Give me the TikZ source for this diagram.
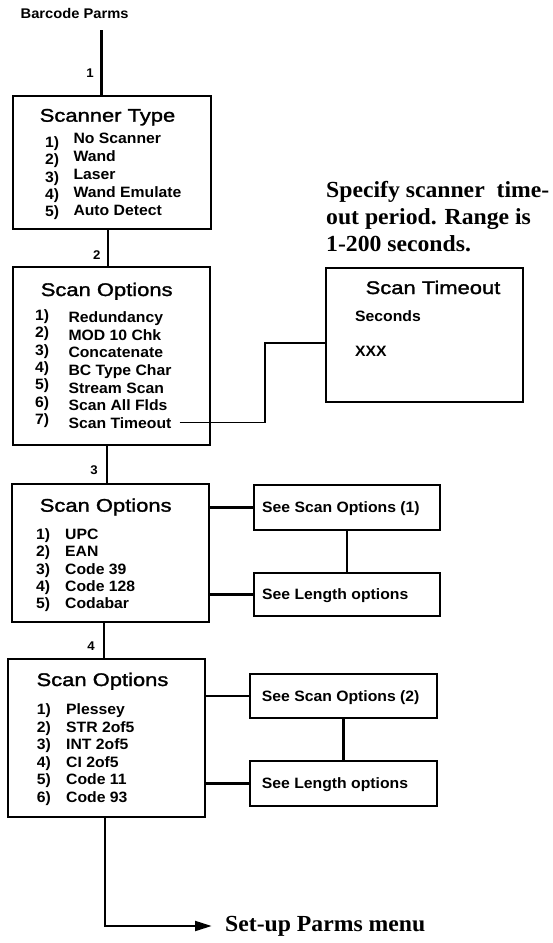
\documentclass[tikz,border=0pt]{standalone}
\usepackage{fontspec}
\setmainfont{Liberation Sans}
\newfontfamily\ttlfont{Liberation Sans}[FakeStretch=1.2, FakeBold=1.5]
\newfontfamily\itmfont{Liberation Sans}[FakeStretch=1.05]
\newfontfamily\notefont{Liberation Serif}[FakeStretch=1.03]
\usetikzlibrary{arrows.meta}

\begin{document}
\begin{tikzpicture}[x=1pt,y=-1pt,
  box/.style={draw, line width=2pt, inner sep=0pt, anchor=north west},
  ttl/.style={font=\ttlfont\fontsize{18.3}{20}\selectfont, anchor=base, inner sep=0pt},
  itm/.style={font=\itmfont\bfseries\fontsize{15}{17}\selectfont, anchor=base west, inner sep=0pt},
  lbl/.style={font=\itmfont\bfseries\fontsize{12.6}{14}\selectfont, anchor=base, inner sep=0pt},
  note/.style={font=\notefont\bfseries\fontsize{23}{27}\selectfont, anchor=base west, inner sep=0pt},
  link/.style={line width=1.3pt},
  heavylink/.style={line width=2.3pt},
]
\useasboundingbox (0,0) rectangle (552,943);

% ---- menu boxes ----
\node[box, minimum width=197.5pt, minimum height=133.5pt] (st)  at (12,94.5) {};
\node[box, minimum width=197.3pt, minimum height=177.5pt] (so1) at (11.7,266) {};
\node[box, minimum width=196.5pt, minimum height=138pt]   (so2) at (11,483) {};
\node[box, minimum width=197.3pt, minimum height=158pt]   (so3) at (6.7,658) {};
\node[box, minimum width=197pt,   minimum height=134pt]   (tmo) at (325,267) {};
\node[box, minimum width=186pt,   minimum height=45pt]    (sa)  at (253,484) {};
\node[box, minimum width=186pt,   minimum height=43pt]    (la)  at (253,572) {};
\node[box, minimum width=187pt,   minimum height=44pt]    (sb)  at (249,673) {};
\node[box, minimum width=187pt,   minimum height=45pt]    (lb)  at (249,760) {};

% ---- headings ----
\node[itm, font=\itmfont\bfseries\fontsize{14}{16}\selectfont] (bp) at (20.5,18.3) {Barcode Parms};
\node[ttl] (st-t)  at (107.5,121.7) {Scanner Type};
\node[ttl] (so1-t) at (106.7,296)   {Scan Options};
\node[ttl] (so2-t) at (105.7,511.7) {Scan Options};
\node[ttl] (so3-t) at (102.5,686)   {Scan Options};
\node[ttl] (tmo-t) at (433,294)     {Scan Timeout};

% ---- Scanner Type entries ----
\foreach \t [count=\i] in {No Scanner, Wand, Laser, Wand Emulate, Auto Detect} {
  \node[itm] (st-n\i) at (45, {147.5+17.25*(\i-1)}) {\i)};
  \node[itm] (st-i\i) at (73.3, {143.5+18*(\i-1)}) {\t};
}

% ---- Scan Options (general) entries ----
\foreach \t [count=\i] in {Redundancy, MOD 10 Chk, Concatenate, BC Type Char, Stream Scan, Scan All Flds, Scan Timeout} {
  \node[itm] (so1-n\i) at (35, {320.3+17.4*(\i-1)}) {\i)};
  \node[itm] (so1-i\i) at (68.3, {322.6+17.6*(\i-1)}) {\t};
}

% ---- Scan Options (symbologies 1) ----
\foreach \t [count=\i] in {UPC, EAN, Code 39, Code 128, Codabar} {
  \node[itm] (so2-n\i) at (36, {539.6+17.25*(\i-1)}) {\i)};
  \node[itm] (so2-i\i) at (65, {539.6+17.25*(\i-1)}) {\t};
}

% ---- Scan Options (symbologies 2) ----
\foreach \t [count=\i] in {Plessey, STR 2of5, INT 2of5, CI 2of5, Code 11, Code 93} {
  \node[itm] (so3-n\i) at (36.7, {714.6+17.5*(\i-1)}) {\i)};
  \node[itm] (so3-i\i) at (66, {714.6+17.5*(\i-1)}) {\t};
}

% ---- Scan Timeout box contents and note ----
\node[itm] (sec) at (355,321.7) {Seconds};
\node[itm] (xxx) at (355,356.7) {XXX};
\node[note] (n1) at (326,197) {Specify scanner\ \ time-};
\node[note] (n2) at (326,224) {out period. Range is};
\node[note] (n3) at (326,251) {1-200 seconds.};

% ---- cross-reference boxes ----
\node[itm] (sa-t) at ([xshift=9pt,yshift=-5.3pt]sa.west) {See Scan Options (1)};
\node[itm] (la-t) at ([xshift=9pt,yshift=-5.3pt]la.west) {See Length options};
\node[itm] (sb-t) at ([xshift=12.7pt,yshift=-5.3pt]sb.west) {See Scan Options (2)};
\node[itm] (lb-t) at ([xshift=12.7pt,yshift=-5.3pt]lb.west) {See Length options};

% ---- step labels ----
\node[lbl] (l1) at (90,77.3)  {1};
\node[lbl] (l2) at (96.7,259.3) {2};
\node[lbl] (l3) at (94,474)   {3};
\node[lbl] (l4) at (91,650)   {4};

% ---- main flow ----
\coordinate (top) at (101.5,30);
\draw[heavylink] (top) -- (top |- st.north);
\coordinate (c12) at (108,0);
\draw[link] (st.south -| c12) -- (so1.north -| c12);
\coordinate (c23) at (107,0);
\draw[link] (so1.south -| c23) -- (so2.north -| c23);
\coordinate (c34) at (104,0);
\draw[link] (so2.south -| c34) -- (so3.north -| c34);

% ---- timeout link ----
\coordinate (tb) at (265,343);
\draw[link] ([xshift=8pt]so1-i7.east) -| (tb) -- (tb -| tmo.west);

% ---- links to cross-reference boxes ----
\draw[heavylink] (so2.east |- sa.west) -- (sa.west);
\draw[heavylink] (so2.east |- la.west) -- (la.west);
\draw[heavylink] (sa.south) -- (la.north);
\draw[heavylink] (so3.east |- sb.west) -- (sb.west);
\draw[heavylink] (so3.east |- lb.west) -- (lb.west);
\draw[heavylink] (sb.south) -- (lb.north);

% ---- exit to set-up menu ----
\node[note, inner xsep=13.3pt] (setup) at (211.7,931.7) {Set-up Parms menu};
\coordinate (bend) at (105,926);
\draw[line width=2pt, -{Triangle[length=16.7pt,width=10pt]}]
  (so3.south -| bend) -- (bend) -- (bend -| setup.west);
\end{tikzpicture}
\end{document}
